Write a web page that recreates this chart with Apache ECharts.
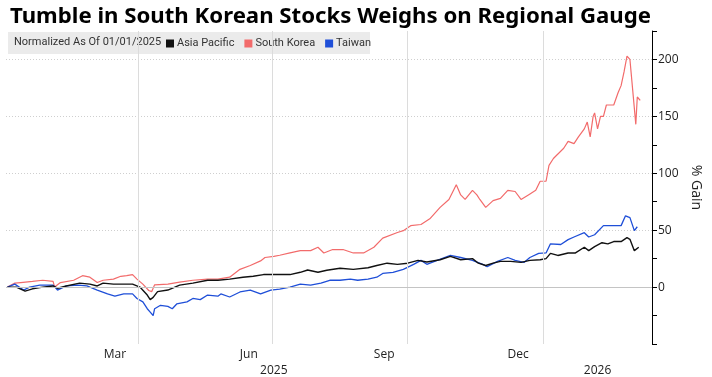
<!DOCTYPE html>
<html lang="en">
<head>
    <meta charset="UTF-8">
    <title>Tumble in South Korean Stocks Weighs on Regional Gauge</title>
    <script src="https://cdn.jsdelivr.net/npm/echarts@6.0.0/dist/echarts.min.js"></script>
    <style>
        html, body { margin: 0; padding: 0; background: #fff; }
    </style>
</head>
<body>
<div id="chart" style="width: 712px; height: 377px;"></div>

<script>
    // Asia Pacific (black)
    var apDates = ['2025-01-02', '2025-01-08', '2025-01-14', '2025-01-19', '2025-01-26', '2025-02-02', '2025-02-05',
        '2025-02-11', '2025-02-20', '2025-02-27', '2025-03-04', '2025-03-08', '2025-03-15', '2025-03-22', '2025-03-28',
        '2025-04-02', '2025-04-07', '2025-04-09', '2025-04-11', '2025-04-14', '2025-04-21', '2025-04-29', '2025-05-08',
        '2025-05-18', '2025-05-25', '2025-06-02', '2025-06-11', '2025-06-18', '2025-06-25', '2025-07-04', '2025-07-13',
        '2025-07-20', '2025-07-25', '2025-08-01', '2025-08-07', '2025-08-16', '2025-08-25', '2025-09-04', '2025-09-10',
        '2025-09-17', '2025-09-24', '2025-10-01', '2025-10-08', '2025-10-14', '2025-10-23', '2025-10-30', '2025-11-06',
        '2025-11-14', '2025-11-18', '2025-11-23', '2025-11-28', '2025-12-03', '2025-12-10', '2025-12-17', '2025-12-23',
        '2025-12-30', '2026-01-03', '2026-01-06', '2026-01-11', '2026-01-18', '2026-01-23', '2026-01-29', '2026-02-01',
        '2026-02-05', '2026-02-10', '2026-02-14', '2026-02-18', '2026-02-23', '2026-02-27', '2026-03-01', '2026-03-04',
        '2026-03-07'];
    var apValues = [0, 0, -3.5, -1.5, 0, 1, -1,
        1, 3.5, 2.6, 1, 3.5, 2.6, 2.6, 2.6,
        0, -7, -11, -9, -4, -2.6, 1.7, 3.5,
        6, 6, 7, 8.7, 9.5, 11, 11, 11,
        13, 15, 13, 14.8, 16.5, 15.6, 17, 19,
        21, 20, 21, 23.5, 22, 24, 27, 24,
        25, 21, 19, 21, 22.6, 22.6, 21.7, 23.5,
        24, 25, 29.6, 27.8, 30, 30, 35, 32,
        35.6, 39, 38, 40, 40, 43.5, 42, 32,
        35];

    // South Korea (red)
    var krDates = ['2025-01-02', '2025-01-07', '2025-01-11', '2025-01-19', '2025-01-26', '2025-02-02', '2025-02-03',
        '2025-02-07', '2025-02-16', '2025-02-22', '2025-02-27', '2025-03-04', '2025-03-08', '2025-03-15', '2025-03-20',
        '2025-03-24', '2025-03-28', '2025-03-31', '2025-04-04', '2025-04-08', '2025-04-10', '2025-04-12', '2025-04-21',
        '2025-04-29', '2025-05-08', '2025-05-18', '2025-05-25', '2025-06-02', '2025-06-09', '2025-06-16', '2025-06-23',
        '2025-06-26', '2025-07-02', '2025-07-06', '2025-07-13', '2025-07-20', '2025-07-27', '2025-08-01', '2025-08-05',
        '2025-08-11', '2025-08-18', '2025-08-25', '2025-09-01', '2025-09-08', '2025-09-14', '2025-09-24', '2025-09-28',
        '2025-10-03', '2025-10-10', '2025-10-16', '2025-10-23', '2025-10-29', '2025-11-03', '2025-11-06', '2025-11-09',
        '2025-11-14', '2025-11-17', '2025-11-19', '2025-11-23', '2025-11-28', '2025-12-03', '2025-12-08', '2025-12-13',
        '2025-12-17', '2025-12-22', '2025-12-27', '2025-12-30', '2026-01-03', '2026-01-05', '2026-01-08', '2026-01-15',
        '2026-01-18', '2026-01-22', '2026-01-25', '2026-01-29', '2026-01-31', '2026-02-02', '2026-02-04', '2026-02-05',
        '2026-02-07', '2026-02-09', '2026-02-11', '2026-02-13', '2026-02-18', '2026-02-21', '2026-02-23', '2026-02-25',
        '2026-02-27', '2026-03-01', '2026-03-05', '2026-03-06', '2026-03-08'];
    var krValues = [0, 3.5, 4, 5, 6, 5, 0,
        4, 6, 10, 8.7, 4, 6, 7, 9.5,
        10, 11, 7, 2.6, -3, -4, 2, 2.6,
        4.3, 6, 7, 7, 8.7, 15.6, 19, 23,
        26, 27, 28, 30, 32, 32, 35, 30,
        33, 33, 30, 30, 35, 43, 48, 49.6,
        54, 55, 60, 70, 77, 90, 81, 77,
        85, 81, 77, 70, 76, 78, 85, 84,
        77, 81, 85, 93, 93, 107, 113, 122,
        128, 126, 132, 139, 145, 132, 150, 153,
        139, 150, 150, 160, 160, 171, 177, 189,
        203, 200, 143, 167, 164];

    // Taiwan (blue)
    var twDates = ['2025-01-02', '2025-01-07', '2025-01-13', '2025-01-17', '2025-01-24', '2025-02-02', '2025-02-05',
        '2025-02-11', '2025-02-19', '2025-02-25', '2025-03-04', '2025-03-11', '2025-03-16', '2025-03-22', '2025-03-28',
        '2025-03-31', '2025-04-04', '2025-04-07', '2025-04-09', '2025-04-11', '2025-04-12', '2025-04-16', '2025-04-21',
        '2025-04-24', '2025-04-27', '2025-05-04', '2025-05-08', '2025-05-13', '2025-05-18', '2025-05-25', '2025-05-27',
        '2025-06-02', '2025-06-09', '2025-06-16', '2025-06-23', '2025-06-30', '2025-07-06', '2025-07-13', '2025-07-20',
        '2025-07-27', '2025-08-03', '2025-08-09', '2025-08-16', '2025-08-23', '2025-08-28', '2025-09-04', '2025-09-10',
        '2025-09-14', '2025-09-21', '2025-09-28', '2025-10-05', '2025-10-10', '2025-10-14', '2025-10-21', '2025-10-30',
        '2025-11-06', '2025-11-14', '2025-11-21', '2025-11-24', '2025-12-01', '2025-12-08', '2025-12-13', '2025-12-19',
        '2025-12-23', '2025-12-29', '2026-01-03', '2026-01-06', '2026-01-13', '2026-01-18', '2026-01-22', '2026-01-29',
        '2026-02-01', '2026-02-05', '2026-02-11', '2026-02-23', '2026-02-26', '2026-03-01', '2026-03-04', '2026-03-06'];
    var twValues = [0, 2.6, -2.6, 0, 1.7, 1.7, -2.6,
        1, 1.7, 1, -2.6, -6, -8, -6, -6,
        -10, -13, -19, -22, -25, -19, -16, -17,
        -19, -14.8, -13, -10, -11, -7, -8, -6,
        -8.7, -4.3, -2.6, -6, -2.6, -1.7, 0, 2.6,
        1.7, 3.5, 6, 6, 7, 6, 7, 8.7,
        12, 13, 15.6, 20, 23.5, 20, 23.5, 27.8,
        26, 23.5, 20, 18, 22.6, 26, 23.5, 21.7,
        26, 29.6, 30, 38, 37.4, 41.7, 44, 47.8,
        44, 46, 54, 54, 62.6, 61, 49.6, 53];

    var monthLabelDays = ['2025-03-16', '2025-06-15', '2025-09-15', '2025-12-15'];
    var yearLabelDays = ['2025-07-02', '2026-02-07'];
    var quarterLines = ['2025-04-01', '2025-07-01', '2025-10-01', '2026-01-01'];
    var monthNames = ['Jan', 'Feb', 'Mar', 'Apr', 'May', 'Jun', 'Jul', 'Aug', 'Sep', 'Oct', 'Nov', 'Dec'];

    function ts(s) {
        var p = s.split('-');
        return new Date(+p[0], +p[1] - 1, +p[2]).getTime();
    }
    function pairs(dates, values) {
        return dates.map(function (d, i) { return [ts(d), values[i]]; });
    }

    var FONT = 'Open Sans';
    var SMALL = 'Roboto';
    var chart = echarts.init(document.getElementById('chart'), null, {renderer: 'canvas'});

    // light gray colour only on the 50/100/150/200 lines (ticks every 25 from -50)
    var splitColors = ['transparent', 'transparent', 'transparent', 'transparent', '#cfcfcf', 'transparent',
        '#cfcfcf', 'transparent', '#cfcfcf', 'transparent', '#cfcfcf', 'transparent'];

    var xMin = ts('2025-01-01');
    var xMax = ts('2026-03-16');

    var option = {
        animation: false,
        backgroundColor: '#ffffff',
        title: {
            text: 'Tumble in South Korean Stocks Weighs on Regional Gauge',
            left: 5,
            top: 1,
            textStyle: {fontFamily: 'Noto Sans', fontWeight: 'bold', fontSize: 22.2, color: '#000'}
        },
        graphic: [
            {type: 'rect', left: 8, top: 32, shape: {width: 362, height: 22}, style: {fill: '#ebebeb'}, z: 0},
            {type: 'text', left: 14, top: 37, style: {text: 'Normalized As Of 01/01/2025', fontFamily: SMALL, fontSize: 11, fill: '#333'}}
        ],
        legend: {
            data: ['Asia Pacific', 'South Korea', 'Taiwan'],
            left: 166,
            top: 38,
            icon: 'rect',
            itemWidth: 8,
            itemHeight: 8,
            itemGap: 10,
            padding: 0,
            textStyle: {fontFamily: SMALL, fontSize: 11, color: '#333', padding: [0, 0, 0, -2]}
        },
        grid: {left: 6, right: 60, top: 31, bottom: 32},
        xAxis: [
            {
                type: 'value',
                min: xMin,
                max: xMax,
                axisLine: {show: false},
                axisTick: {show: false},
                splitLine: {show: false},
                axisLabel: {
                    customValues: monthLabelDays.map(ts),
                    formatter: function (v) { return monthNames[new Date(v).getMonth()]; },
                    fontFamily: FONT, fontSize: 12, color: '#222', margin: 5
                }
            },
            {
                type: 'value',
                position: 'bottom',
                offset: 16,
                min: xMin,
                max: xMax,
                axisLine: {show: false},
                axisTick: {show: false},
                splitLine: {show: false},
                axisLabel: {
                    customValues: yearLabelDays.map(ts),
                    formatter: function (v) { return String(new Date(v).getFullYear()); },
                    fontFamily: FONT, fontSize: 12, color: '#222', margin: 5
                }
            }
        ],
        yAxis: {
            type: 'value',
            position: 'right',
            min: -50,
            max: 225,
            interval: 25,
            name: '% Gain',
            nameLocation: 'middle',
            nameRotate: -90,
            nameGap: 34,
            nameTextStyle: {fontFamily: FONT, fontSize: 14, color: '#222'},
            axisLine: {show: true, lineStyle: {color: '#000', width: 1}},
            axisTick: {show: true, length: 5, lineStyle: {color: '#000'}},
            axisLabel: {
                fontFamily: FONT, fontSize: 12, color: '#222', margin: 6,
                formatter: function (v) { return (v >= 0 && v <= 200 && v % 50 === 0) ? String(v) : ''; }
            },
            splitLine: {show: true, lineStyle: {color: splitColors, type: [1, 2], width: 1}}
        },
        series: [
            {
                name: 'grid',
                type: 'line',
                data: [],
                z: 1,
                silent: true,
                markLine: {
                    silent: true,
                    symbol: 'none',
                    label: {show: false},
                    data: quarterLines.map(function (d) {
                        return {xAxis: ts(d), lineStyle: {color: '#dcdcdc', type: 'solid', width: 1}};
                    }).concat([{yAxis: 0, lineStyle: {color: '#c4c4c4', type: 'solid', width: 1}}])
                }
            },
            {
                name: 'Asia Pacific', type: 'line', showSymbol: false, z: 4,
                lineStyle: {color: '#111', width: 1.4}, itemStyle: {color: '#111'},
                data: pairs(apDates, apValues)
            },
            {
                name: 'South Korea', type: 'line', showSymbol: false, z: 3,
                lineStyle: {color: '#f26b6b', width: 1.2}, itemStyle: {color: '#f26b6b'},
                data: pairs(krDates, krValues)
            },
            {
                name: 'Taiwan', type: 'line', showSymbol: false, z: 3,
                lineStyle: {color: '#1f4fd8', width: 1.3}, itemStyle: {color: '#1f4fd8'},
                data: pairs(twDates, twValues)
            }
        ]
    };

    chart.setOption(option);
</script>
</body>
</html>
